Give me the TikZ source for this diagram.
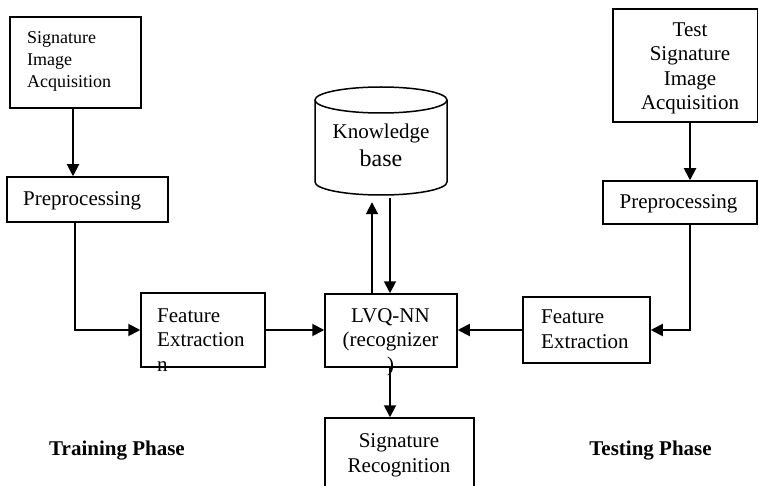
\documentclass[tikz,border=0pt]{standalone}
\usepackage{fontspec}
\setmainfont{Liberation Serif}
\usetikzlibrary{arrows.meta}
\begin{document}
\begin{tikzpicture}[x=1pt,y=-1pt,
  box/.style={draw, line width=1.5pt, inner sep=0pt},
  txt/.style={font=\fontsize{21}{24.5}\selectfont, inner sep=0pt, align=left},
  stxt/.style={font=\fontsize{18}{22}\selectfont, inner sep=0pt, align=left},
  ctxt/.style={font=\fontsize{21}{24.5}\selectfont, inner sep=0pt, align=center},
  phase/.style={font=\fontsize{21}{24}\selectfont\bfseries, inner sep=0pt},
  arr/.style={line width=1.9pt, -{Triangle[length=12pt,width=12pt]}}]
\clip (0,0) rectangle (759,486);
\fill[white] (0,0) rectangle (759,486);
% boxes
\node[box, minimum width=131pt, minimum height=91pt] (acq1) at (75.5,62.5) {};
\node[box, minimum width=161pt, minimum height=45pt] (pre1) at (87.5,199.5) {};
\node[box, minimum width=124pt, minimum height=74pt] (fe1) at (203,330) {};
\node[box, minimum width=132pt, minimum height=73pt] (lvq) at (391,330.5) {};
\node[box, minimum width=149pt, minimum height=82pt] (sr) at (399.5,459) {};
\node[box, minimum width=144.5pt, minimum height=113pt] (acq2) at (685.25,65.5) {};
\node[box, minimum width=154pt, minimum height=43pt] (pre2) at (680,202.5) {};
\node[box, minimum width=127pt, minimum height=66pt] (fe2) at (586.5,330) {};
% knowledge base cylinder
\node[inner sep=0pt, minimum width=132pt, minimum height=114pt] (kb) at (381,145) {};
\draw[line width=1.5pt] (315,100) -- (315,182) arc[start angle=180, end angle=360, x radius=66pt, y radius=13pt] -- (447,100);
\draw[line width=1.5pt] (381,100) ellipse [x radius=66pt, y radius=13pt];
% texts (anchor = baseline of the last line)
\node[stxt, anchor=base west] (t1) at (27,88) {Signature\\Image\\Acquisition};
\node[txt, anchor=base west] (t2) at (23,206) {Preprocessing};
\node[txt, anchor=base west] (t3) at (157,371) {Feature\\Extraction\\n};
\node[ctxt, anchor=base] (t4) at (390.5,371) {LVQ-NN\\(recognizer\\)};
\node[ctxt, anchor=base] (t5) at (381,139) {Knowledge};
\node[font=\fontsize{24}{24}\selectfont, inner sep=0pt, anchor=base] (t6) at (381,167) {base};
\node[ctxt, anchor=base] (t7) at (399,472) {Signature\\Recognition};
\node[ctxt, anchor=base] (t8) at (690,110) {Test\\Signature\\Image\\Acquisition};
\node[txt, anchor=base] (t9) at (678.5,208) {Preprocessing};
\node[txt, anchor=base west] (t10) at (541,348) {Feature\\Extraction};
\node[phase, anchor=base] (t11) at (117,455) {Training Phase};
\node[phase, anchor=base] (t12) at (650.5,455) {Testing Phase};
% connectors
\draw[arr] ([xshift=-2.5pt]acq1.south) -- ([xshift=-2.5pt]acq1.south |- pre1.north);
\draw[arr] ([xshift=-0.5pt]acq1.south |- pre1.south) |- (fe1.west);
\draw[arr] (fe1.east) -- (fe1.east -| lvq.west);
\draw[arr] ([xshift=4.75pt]acq2.south) -- ([xshift=4.75pt]acq2.south |- pre2.north);
\draw[arr] ([xshift=4.75pt]acq2.south |- pre2.south) |- (fe2.east);
\draw[arr] (fe2.west) -- (fe2.west -| lvq.east);
\draw[arr] ([xshift=-1pt]lvq.south) -- ([xshift=-1pt]lvq.south |- sr.north);
\draw[arr] ([xshift=-9pt]kb.south |- lvq.north) -- ([xshift=-9pt]kb.south);
\draw[arr] ([xshift=9pt,yshift=4pt]kb.south) -- ([xshift=9pt]kb.south |- lvq.north);
\end{tikzpicture}
\end{document}
